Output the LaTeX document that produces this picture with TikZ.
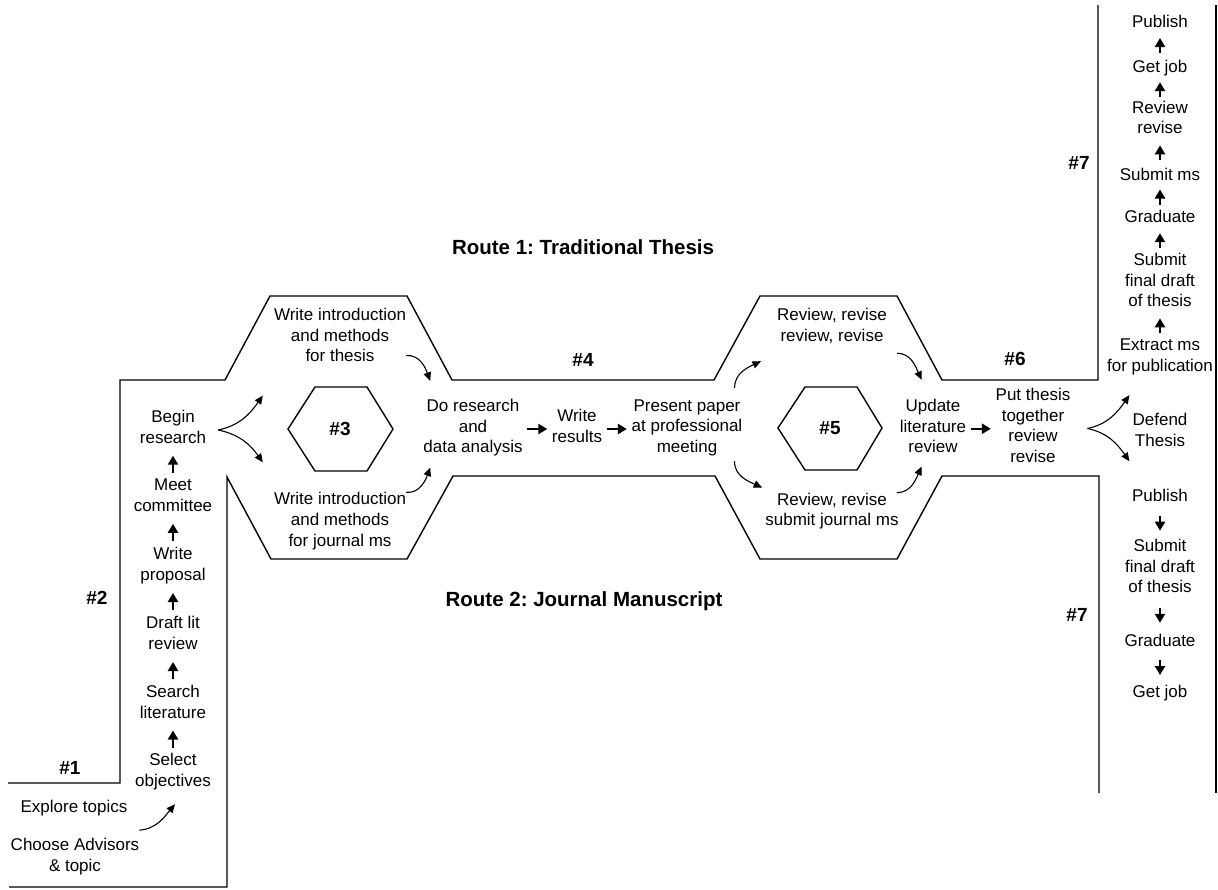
\documentclass[tikz,border=0pt]{standalone}
\usepackage{fontspec}
\setmainfont{Liberation Sans}
\usetikzlibrary{arrows.meta,calc}
\frenchspacing

\newcommand{\bodyfont}{\fontsize{17}{20.7}\selectfont}
\newcommand{\labelfont}{\fontsize{19}{22}\selectfont\bfseries}
\newcommand{\titlefont}{\fontsize{20.5}{24}\selectfont\bfseries}

% fixed-length straight arrows centred in the gap between two nodes
\newcommand{\stepup}[2]{\draw[sarrow] ($(#1.north)!.5!(#2.south)+(0,8.5)$) -- ++(0,-17);}
\newcommand{\stepupshort}[2]{\draw[sarrow] ($(#1.north)!.5!(#2.south)+(0,7.5)$) -- ++(0,-15);}
\newcommand{\stepdown}[2]{\draw[sarrow] ($(#1.south)!.5!(#2.north)+(0,-7.5)$) -- ++(0,15);}
\newcommand{\stepright}[2]{\draw[sarrow] ($(#1.east)!.5!(#2.west)+(-10,0)$) -- ++(20,0);}

\begin{document}
\begin{tikzpicture}[x=1pt,y=-1pt,
  outline/.style={line width=1.4pt, line join=miter},
  txt/.style={align=center, inner sep=0pt, font=\bodyfont,
    execute at begin node=\strut, execute at end node=\strut},
  lbl/.style={inner sep=0pt, font=\labelfont},
  ttl/.style={inner sep=0pt, font=\titlefont},
  sarrow/.style={line width=2.3pt, -{Triangle[length=9pt,width=10pt]}},
  carrow/.style={line width=1.1pt, -{Triangle[length=8.5pt,width=7.5pt]}},
]
\useasboundingbox (0,0) rectangle (1218,889);

% ---- outline of the two routes ----
\draw[outline] (8,783) -- (120,783) -- (120,380) -- (225,380) -- (270,296)
  -- (407,296) -- (452,380) -- (714,380) -- (760,296) -- (897,296)
  -- (942,380) -- (1098,380) -- (1098,5);
\draw[outline] (9,887) -- (227,887) -- (227,477) -- (271,559) -- (407,559)
  -- (453,476) -- (715,476) -- (760,559) -- (897,559) -- (942,476)
  -- (1099,476) -- (1099,793);
\draw[outline] (1216,5) -- (1216,793);

% ---- titles and stage labels ----
\node[ttl] (route1) at (583,247) {Route 1: Traditional Thesis};
\node[ttl] (route2) at (584,601) {Route 2: Journal Manuscript};
\node[lbl] (s1) at (70,768) {\#1};
\node[lbl] (s2) at (97,598) {\#2};
\node[lbl] (s3) at (340,429) {\#3};
\node[lbl] (s4) at (583,360) {\#4};
\node[lbl] (s5) at (830,428) {\#5};
\node[lbl] (s6) at (1015,359) {\#6};
\node[lbl] (s7a) at (1079,163) {\#7};
\node[lbl] (s7b) at (1077,615) {\#7};

\draw[outline] ($(s3.center)+(-52,0)$) -- ++(27,-42) -- ++(52,0) -- ++(26,42)
  -- ++(-26,42) -- ++(-52,0) -- cycle;
\draw[outline] ($(s5.center)+(-52,0)$) -- ++(27,-41) -- ++(52,0) -- ++(25,41)
  -- ++(-25,42) -- ++(-52,0) -- cycle;

% ---- stage 1 and 2 ----
\node[txt] (explore) at (74,808) {Explore topics};
\node[txt] (choose) at (75,858) {Choose Advisors\\\& topic};
\node[txt] (select) at (173,773) {Select\\objectives};
\node[txt] (search) at (173,705) {Search\\literature};
\node[txt] (draft) at (173,636) {Draft lit\\review};
\node[txt] (proposal) at (173,567) {Write\\proposal};
\node[txt] (meet) at (173,498) {Meet\\committee};
\node[txt] (begin) at (173,430) {Begin\\research};

\draw[carrow] ([yshift=8pt]choose.north east) to[out=5,in=230]
  ([xshift=2pt,yshift=-11.4pt]select.south);
\stepup{select}{search}
\stepup{search}{draft}
\stepup{draft}{proposal}
\stepup{proposal}{meet}
\stepup{meet}{begin}

% ---- stage 3 and 4 ----
\node[txt] (introT) at (340,338) {Write introduction\\and methods\\for thesis};
\node[txt] (introJ) at (340,522.5) {Write introduction\\and methods\\for journal ms};
\node[txt] (doresearch) at (473,429) {Do research\\and\\data analysis};
\node[txt] (results) at (577,429) {Write\\results};
\node[txt] (present) at (687,429) {Present paper\\at professional\\meeting};

\draw[carrow] ([xshift=12pt]begin.east) to[out=12,in=235]
  ([xshift=-11pt,yshift=-27.4pt]introT.south west);
\draw[carrow] ([xshift=12pt]begin.east) to[out=-12,in=125]
  ([xshift=-11pt,yshift=30pt]introJ.north west);
\draw[carrow] ([yshift=12.6pt]introT.south east) to[out=5,in=110]
  ([xshift=7pt,yshift=18pt]doresearch.north west);
\draw[carrow] (introJ.north east) to[out=-5,in=250]
  ([xshift=7pt,yshift=-8.4pt]doresearch.south west);
\stepright{doresearch}{results}
\stepright{results}{present}

% ---- stage 5 and 6 ----
\node[txt] (reviewT) at (832,328) {Review, revise\\review, revise};
\node[txt] (reviewJ) at (832,512.5) {Review, revise\\submit journal ms};
\node[txt] (update) at (933,429) {Update\\literature\\review};
\node[txt] (together) at (1033,428.5) {Put thesis\\together\\review\\revise};
\node[txt] (defend) at (1160,433) {Defend\\Thesis};

\draw[carrow] ([xshift=-8pt,yshift=11pt]present.north east) to[out=90,in=205]
  ([xshift=-16pt,yshift=-13.4pt]reviewT.south west);
\draw[carrow] ([xshift=-8pt,yshift=-2.4pt]present.south east) to[out=-90,in=155]
  ([xshift=-3pt,yshift=5pt]reviewJ.north west);
\draw[carrow] ([xshift=10pt,yshift=-5.4pt]reviewT.south east) to[out=0,in=115]
  ([xshift=22pt,yshift=19pt]update.north west);
\draw[carrow] ([xshift=-2pt]reviewJ.north east) to[out=0,in=245]
  ([xshift=22pt,yshift=-7.4pt]update.south west);
\stepright{update}{together}
\draw[carrow] ([xshift=17pt]together.east) to[out=12,in=235]
  ([xshift=-3pt,yshift=18pt]defend.north west);
\draw[carrow] ([xshift=17pt]together.east) to[out=-12,in=125]
  ([xshift=-3pt,yshift=-8.4pt]defend.south west);

% ---- stage 7, journal route ----
\node[txt] (publishA) at (1160,23) {Publish};
\node[txt] (jobA) at (1160,68) {Get job};
\node[txt] (reviseA) at (1160,120.5) {Review\\revise};
\node[txt] (submitmsA) at (1160,176) {Submit ms};
\node[txt] (graduateA) at (1160,218) {Graduate};
\node[txt] (finalA) at (1160,283) {Submit\\final draft\\of thesis};
\node[txt] (extract) at (1160,358) {Extract ms\\for publication};

\stepupshort{extract}{finalA}
\stepupshort{finalA}{graduateA}
\stepupshort{graduateA}{submitmsA}
\stepupshort{submitmsA}{reviseA}
\stepupshort{reviseA}{jobA}
\stepupshort{jobA}{publishA}

% ---- stage 7, thesis route ----
\node[txt] (publishB) at (1160,497) {Publish};
\node[txt] (finalB) at (1160,569) {Submit\\final draft\\of thesis};
\node[txt] (graduateB) at (1160,642) {Graduate};
\node[txt] (jobB) at (1160,693) {Get job};

\stepdown{publishB}{finalB}
\stepdown{finalB}{graduateB}
\stepdown{graduateB}{jobB}

\end{tikzpicture}
\end{document}
